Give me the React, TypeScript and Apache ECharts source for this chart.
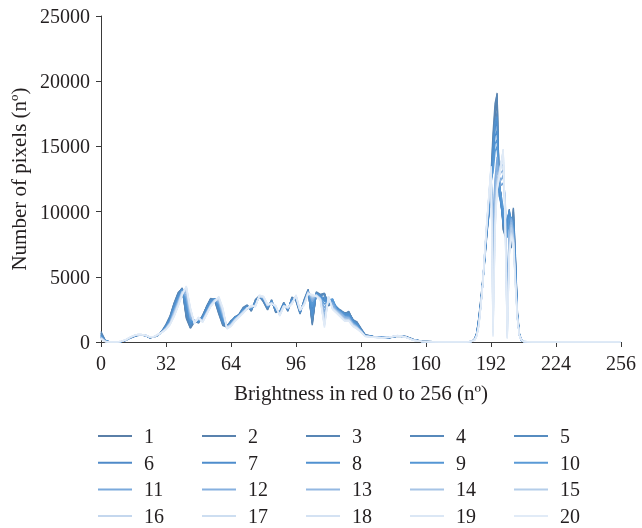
import React, { useEffect, useRef } from "react";
import * as echarts from "echarts";

// x positions (brightness bins) at which the histograms are sampled
const bins = [
  0, 2, 4, 6, 8, 10, 12, 14, 16, 18, 20,
  22, 24, 26, 28, 30, 32, 34, 36, 38, 40, 42,
  44, 46, 48, 50, 52, 54, 56, 58, 60, 62, 64,
  66, 68, 70, 72, 74, 76, 78, 80, 82, 84, 86,
  88, 90, 92, 94, 96, 98, 100, 102, 104, 106, 108,
  110, 112, 114, 116, 118, 120, 122, 124, 126, 128, 130,
  134, 138, 142, 146, 150, 154, 158, 166, 174, 180,
  182, 183, 184, 185, 186, 187, 188, 189, 190,
  191, 192, 193, 194, 195, 196, 197, 198, 199,
  200, 201, 202, 203, 204, 205, 206, 207, 208,
  212, 224, 240, 256,
];

const xTicks = [0, 32, 64, 96, 128, 160, 192, 224, 256];
const yTicks = [0, 5000, 10000, 15000, 20000, 25000];

const s1 = [
  700, 120, 20, 0, 0, 30, 120, 280, 420, 520, 540,
  480, 330, 380, 520, 820, 1300, 1950, 2950, 3750, 4150, 1900,
  1100, 1600, 1500, 2000, 2700, 3300, 3200, 2200, 1300, 1200, 1600,
  1900, 2100, 2600, 2800, 2400, 3200, 3500, 3100, 2500, 3200, 2300,
  2300, 3000, 2400, 3400, 3200, 2200, 3200, 4000, 1400, 3800, 3600,
  3700, 2800, 3100, 2600, 2400, 2200, 2300, 1700, 1500, 1000, 550,
  420, 380, 330, 450, 420, 180, 60, 10, 0, 10,
  40, 80, 250, 700, 1800, 3200, 4800, 6600, 8600,
  10200, 12500, 15500, 17800, 19100, 12000, 11200, 8700, 8200,
  8800, 10100, 7500, 10200, 6500, 2200, 600, 150, 40,
  10, 0, 0, 0,
];
const s2 = [
  600, 100, 10, 0, 0, 40, 130, 300, 430, 510, 530,
  470, 340, 370, 500, 780, 1250, 1850, 2850, 3650, 4050, 2000,
  1150, 1650, 1450, 2050, 2650, 3250, 3250, 2300, 1350, 1250, 1550,
  1950, 2050, 2550, 2750, 2450, 3150, 3450, 3150, 2550, 3150, 2350,
  2250, 2950, 2450, 3350, 3250, 2250, 3150, 3950, 1500, 3750, 3550,
  3650, 2850, 3050, 2650, 2350, 2250, 2250, 1750, 1450, 1000, 520,
  430, 370, 340, 440, 410, 170, 50, 0, 0, 0,
  30, 90, 260, 720, 1850, 3300, 4900, 6700, 8500,
  10000, 12200, 15000, 17200, 18600, 12300, 11000, 8900, 8300,
  9000, 10000, 7800, 10000, 6300, 2100, 550, 140, 30,
  0, 0, 0, 0,
];
const s3 = [
  800, 150, 30, 0, 0, 20, 110, 270, 400, 500, 530,
  490, 320, 390, 530, 850, 1350, 2000, 3000, 3800, 4100, 1800,
  1050, 1550, 1550, 1950, 2750, 3350, 3150, 2150, 1250, 1150, 1650,
  1850, 2150, 2650, 2850, 2350, 3250, 3550, 3050, 2450, 3250, 2250,
  2350, 3050, 2350, 3450, 3150, 2150, 3250, 4050, 1300, 3850, 3650,
  3750, 2750, 3150, 2550, 2450, 2150, 2350, 1650, 1550, 1050, 580,
  410, 390, 320, 460, 430, 190, 70, 10, 0, 0,
  50, 90, 240, 680, 1750, 3100, 4700, 6500, 8700,
  10400, 12800, 16000, 18300, 19000, 11800, 11400, 8600, 8100,
  8700, 10200, 7200, 10300, 6700, 2300, 650, 160, 50,
  10, 0, 0, 0,
];
const s4 = [
  650, 110, 20, 0, 0, 30, 130, 290, 410, 520, 550,
  490, 330, 380, 520, 800, 1280, 1900, 2900, 3700, 4100, 2100,
  1200, 1600, 1500, 2000, 2700, 3300, 3300, 2400, 1400, 1200, 1600,
  1900, 2100, 2600, 2800, 2500, 3100, 3500, 3200, 2600, 3100, 2400,
  2300, 2900, 2500, 3300, 3300, 2300, 3100, 3900, 1600, 3700, 3600,
  3700, 2900, 3000, 2700, 2400, 2200, 2200, 1700, 1400, 950, 500,
  420, 380, 340, 450, 410, 170, 60, 0, 0, 0,
  40, 80, 230, 650, 1700, 3000, 4600, 6400, 8300,
  9800, 12000, 14500, 16800, 17600, 12500, 10800, 9000, 8500,
  9200, 10000, 8000, 9800, 6100, 2000, 500, 130, 30,
  0, 0, 0, 0,
];
const s5 = [
  550, 90, 10, 0, 0, 40, 140, 300, 440, 530, 550,
  490, 350, 390, 510, 790, 1250, 1850, 2800, 3600, 4100, 2300,
  1250, 1650, 1500, 1950, 2650, 3250, 3300, 2400, 1400, 1250, 1550,
  1950, 2050, 2550, 2750, 2500, 3100, 3450, 3200, 2600, 3150, 2400,
  2250, 2950, 2500, 3300, 3300, 2300, 3100, 3900, 1700, 3700, 3550,
  3650, 2900, 3000, 2650, 2350, 2150, 2200, 1700, 1400, 950, 500,
  410, 370, 340, 450, 400, 170, 50, 0, 0, 0,
  40, 80, 240, 660, 1750, 3050, 4700, 6500, 8400,
  9900, 12100, 14200, 16500, 17000, 12800, 10600, 9200, 8600,
  9400, 9900, 8200, 9600, 6000, 1900, 500, 120, 30,
  0, 0, 0, 0,
];
const s6 = [
  500, 80, 10, 0, 0, 40, 140, 300, 440, 540, 550,
  490, 350, 390, 530, 790, 1200, 1750, 2700, 3500, 4050, 2700,
  1400, 1650, 1600, 1850, 2500, 3100, 3300, 2600, 1600, 1200, 1500,
  1850, 2050, 2500, 2700, 2550, 3000, 3500, 3250, 2650, 3100, 2500,
  2250, 2900, 2500, 3250, 3350, 2300, 3050, 3900, 2200, 3700, 3450,
  3300, 3000, 3200, 2600, 2350, 2100, 2100, 1600, 1350, 900, 500,
  410, 360, 350, 460, 400, 160, 50, 0, 0, 0,
  40, 70, 220, 620, 1650, 3000, 4700, 6600, 8600,
  10000, 12000, 14500, 16500, 16800, 11500, 10500, 9300, 8800,
  9500, 10000, 9200, 9000, 6000, 2000, 550, 140, 30,
  0, 0, 0, 0,
];
const s7 = [
  450, 70, 10, 0, 0, 40, 140, 310, 450, 540, 550,
  490, 360, 390, 530, 780, 1180, 1700, 2650, 3450, 4000, 2900,
  1500, 1650, 1600, 1800, 2450, 3050, 3300, 2700, 1700, 1200, 1450,
  1800, 2050, 2450, 2650, 2600, 2950, 3500, 3300, 2700, 3050, 2550,
  2200, 2850, 2550, 3200, 3400, 2350, 3000, 3850, 2500, 3700, 3400,
  3200, 3100, 3250, 2550, 2300, 2050, 2000, 1550, 1300, 880, 480,
  400, 350, 350, 470, 390, 150, 50, 0, 0, 0,
  40, 70, 210, 600, 1600, 2950, 4650, 6700, 8700,
  10300, 12300, 14000, 15800, 16200, 11800, 10300, 9600, 9000,
  9000, 9800, 9400, 8800, 5800, 2000, 550, 150, 40,
  0, 0, 0, 0,
];
const s8 = [
  520, 90, 10, 0, 0, 40, 130, 300, 450, 540, 550,
  500, 350, 390, 530, 800, 1220, 1780, 2750, 3550, 4050, 2600,
  1350, 1650, 1550, 1900, 2550, 3150, 3300, 2550, 1550, 1200, 1500,
  1900, 2050, 2500, 2700, 2500, 3050, 3500, 3250, 2650, 3150, 2450,
  2250, 2950, 2450, 3300, 3350, 2250, 3100, 3950, 2000, 3750, 3500,
  3400, 3000, 3150, 2600, 2350, 2150, 2150, 1650, 1400, 920, 510,
  410, 360, 340, 460, 400, 160, 50, 0, 0, 0,
  40, 80, 230, 640, 1700, 3050, 4750, 6600, 8500,
  9900, 11800, 14800, 16900, 17300, 11200, 10700, 9100, 8700,
  9300, 10100, 9000, 9300, 6200, 2100, 560, 140, 30,
  0, 0, 0, 0,
];
const s9 = [
  420, 60, 10, 0, 0, 40, 140, 310, 460, 550, 560,
  500, 360, 400, 540, 780, 1150, 1650, 2600, 3400, 4000, 3000,
  1550, 1600, 1650, 1750, 2400, 3000, 3300, 2800, 1800, 1150, 1450,
  1800, 2000, 2450, 2650, 2600, 2950, 3500, 3300, 2700, 3050, 2600,
  2200, 2850, 2550, 3150, 3400, 2350, 3000, 3850, 2700, 3650, 3400,
  3100, 3100, 3300, 2550, 2300, 2050, 2000, 1550, 1300, 870, 480,
  400, 350, 360, 470, 390, 150, 50, 0, 0, 0,
  40, 70, 200, 580, 1550, 2900, 4600, 6800, 8800,
  10500, 12400, 13500, 15200, 15500, 12000, 10800, 10000, 9200,
  8500, 9600, 9500, 8600, 5600, 1900, 520, 140, 40,
  0, 0, 0, 0,
];
const s10 = [
  400, 60, 0, 0, 0, 50, 150, 310, 460, 550, 560,
  500, 370, 400, 540, 770, 1120, 1600, 2500, 3300, 3950, 3200,
  1650, 1600, 1700, 1700, 2350, 2950, 3250, 2900, 1900, 1150, 1400,
  1800, 2000, 2400, 2600, 2650, 2900, 3500, 3350, 2750, 3000, 2650,
  2150, 2800, 2600, 3100, 3450, 2400, 2950, 3850, 2900, 3650, 3350,
  2900, 3200, 3300, 2500, 2300, 2000, 1950, 1500, 1250, 850, 470,
  390, 340, 360, 470, 380, 150, 40, 0, 0, 0,
  40, 70, 200, 570, 1500, 2850, 4600, 6900, 8900,
  10700, 12500, 13000, 14600, 15000, 12200, 11200, 10300, 9500,
  8000, 9400, 9600, 8500, 5500, 1900, 520, 150, 40,
  0, 0, 0, 0,
];
const s11 = [
  380, 60, 0, 0, 0, 50, 150, 320, 460, 550, 560,
  500, 370, 400, 550, 770, 1100, 1550, 2400, 3200, 3900, 3400,
  1800, 1600, 1700, 1700, 2300, 2900, 3250, 3000, 2000, 1150, 1400,
  1750, 2000, 2350, 2600, 2650, 2850, 3500, 3350, 2750, 3000, 2650,
  2150, 2800, 2550, 3050, 3450, 2400, 2950, 3850, 3100, 3600, 3350,
  2600, 3250, 3000, 2450, 2250, 1950, 1900, 1450, 1200, 850, 470,
  390, 340, 360, 470, 380, 150, 40, 0, 0, 0,
  40, 70, 190, 550, 1450, 2850, 4600, 7000, 9000,
  11000, 12800, 9500, 12500, 14200, 12600, 12000, 12200, 11000,
  4000, 8500, 9500, 8500, 5200, 1900, 500, 150, 40,
  0, 0, 0, 0,
];
const s12 = [
  360, 60, 0, 0, 0, 50, 150, 320, 460, 550, 560,
  500, 370, 400, 550, 760, 1080, 1500, 2350, 3100, 3900, 3600,
  1900, 1550, 1750, 1650, 2250, 2850, 3250, 3100, 2100, 1150, 1350,
  1750, 2000, 2350, 2600, 2700, 2850, 3500, 3400, 2800, 3000, 2700,
  2100, 2800, 2600, 3050, 3450, 2400, 2950, 3850, 3200, 3600, 3350,
  2300, 3300, 2800, 2400, 2200, 1900, 1850, 1400, 1200, 830, 460,
  390, 340, 360, 480, 380, 150, 40, 0, 0, 0,
  40, 60, 190, 540, 1420, 2820, 4600, 7000, 9000,
  11100, 12900, 8000, 12200, 13600, 12700, 12400, 12800, 10800,
  3000, 8200, 9400, 8300, 5000, 1900, 500, 150, 40,
  0, 0, 0, 0,
];
const s13 = [
  340, 50, 0, 0, 0, 50, 150, 320, 470, 560, 560,
  500, 380, 400, 550, 760, 1060, 1480, 2300, 3050, 3850, 3800,
  2000, 1550, 1750, 1650, 2250, 2850, 3250, 3150, 2150, 1150, 1350,
  1750, 2000, 2300, 2600, 2700, 2850, 3500, 3400, 2800, 3000, 2700,
  2100, 2800, 2600, 3050, 3450, 2400, 2950, 3850, 3300, 3600, 3350,
  2000, 3350, 2700, 2400, 2150, 1850, 1800, 1400, 1150, 820, 460,
  390, 340, 360, 480, 380, 150, 40, 0, 0, 0,
  40, 60, 190, 530, 1400, 2800, 4600, 7000, 9100,
  11100, 13000, 6500, 11500, 13000, 12800, 13000, 13200, 10500,
  2200, 7900, 9200, 8200, 4900, 1900, 500, 150, 40,
  0, 0, 0, 0,
];
const s14 = [
  320, 50, 0, 0, 0, 50, 150, 320, 470, 560, 560,
  500, 380, 400, 560, 750, 1030, 1450, 2200, 3000, 3850, 3900,
  2200, 1500, 1800, 1600, 2200, 2800, 3200, 3250, 2250, 1100, 1300,
  1700, 2000, 2300, 2550, 2700, 2800, 3500, 3400, 2800, 3000, 2700,
  2100, 2800, 2600, 3000, 3500, 2400, 2900, 3800, 3400, 3600, 3300,
  1700, 3400, 2650, 2350, 2050, 1750, 1750, 1350, 1100, 810, 450,
  380, 330, 360, 480, 380, 140, 40, 0, 0, 0,
  40, 60, 180, 520, 1380, 2800, 4600, 7000, 9100,
  11200, 13100, 4500, 10800, 12500, 12900, 13500, 13600, 10000,
  1500, 7600, 9000, 8000, 4800, 1900, 500, 150, 40,
  0, 0, 0, 0,
];
const s15 = [
  310, 50, 0, 0, 0, 50, 150, 320, 470, 560, 560,
  500, 380, 400, 560, 750, 1020, 1430, 2150, 2950, 3800, 4000,
  2300, 1500, 1800, 1600, 2200, 2800, 3200, 3300, 2300, 1100, 1300,
  1700, 2000, 2300, 2550, 2700, 2800, 3500, 3400, 2800, 3000, 2700,
  2100, 2800, 2600, 3000, 3500, 2400, 2900, 3800, 3450, 3600, 3300,
  1600, 3400, 2600, 2300, 2000, 1700, 1700, 1300, 1100, 800, 450,
  380, 330, 360, 480, 380, 140, 40, 0, 0, 0,
  40, 60, 180, 510, 1350, 2800, 4600, 7000, 9200,
  11200, 13100, 3000, 10000, 12200, 13000, 13800, 14000, 9800,
  1000, 7300, 8800, 7900, 4700, 1850, 500, 150, 40,
  0, 0, 0, 0,
];
const s16 = [
  300, 50, 0, 0, 0, 50, 150, 320, 470, 560, 560,
  500, 380, 400, 560, 750, 1000, 1400, 2100, 2900, 3800, 4100,
  2400, 1500, 1800, 1600, 2200, 2800, 3200, 3300, 2400, 1100, 1300,
  1700, 2000, 2300, 2600, 2700, 2800, 3500, 3400, 2800, 3000, 2700,
  2100, 2800, 2600, 3000, 3500, 2400, 2900, 3800, 3500, 3600, 3300,
  1400, 3400, 2600, 2300, 2000, 1700, 1700, 1300, 1100, 800, 450,
  380, 330, 360, 480, 380, 140, 40, 0, 0, 0,
  40, 60, 180, 500, 1300, 2800, 4600, 7000, 9200,
  11200, 13200, 1500, 9300, 12000, 12900, 13800, 14400, 9400,
  600, 7000, 8400, 7800, 4600, 1800, 500, 150, 40,
  0, 0, 0, 0,
];
const s17 = [
  280, 40, 0, 0, 0, 50, 160, 330, 480, 570, 570,
  510, 390, 410, 570, 740, 980, 1380, 2050, 2850, 3750, 4150,
  2500, 1450, 1850, 1550, 2150, 2750, 3150, 3350, 2450, 1050, 1250,
  1650, 1950, 2250, 2600, 2750, 2750, 3550, 3450, 2850, 2950, 2750,
  2050, 2750, 2650, 2950, 3550, 2450, 2850, 3750, 3550, 3550, 3250,
  1300, 3450, 2550, 2250, 1950, 1650, 1650, 1250, 1050, 780, 440,
  370, 320, 370, 490, 370, 130, 40, 0, 0, 0,
  40, 60, 170, 490, 1280, 2780, 4620, 7050, 9250,
  11300, 13300, 1000, 9000, 11900, 12800, 13800, 14600, 9200,
  450, 6900, 8300, 7800, 4500, 1800, 500, 150, 40,
  0, 0, 0, 0,
];
const s18 = [
  260, 40, 0, 0, 0, 60, 160, 330, 480, 570, 570,
  510, 390, 410, 570, 740, 970, 1360, 2000, 2800, 3700, 4200,
  2550, 1450, 1850, 1550, 2150, 2750, 3150, 3400, 2500, 1050, 1250,
  1650, 1950, 2250, 2600, 2750, 2750, 3550, 3450, 2850, 2950, 2750,
  2050, 2750, 2650, 2950, 3550, 2450, 2850, 3750, 3550, 3550, 3250,
  1300, 3450, 2550, 2250, 1950, 1650, 1650, 1250, 1050, 780, 440,
  370, 320, 370, 490, 370, 130, 40, 0, 0, 0,
  40, 60, 170, 480, 1250, 2750, 4600, 7100, 9300,
  11300, 13400, 700, 8800, 11800, 12700, 13700, 14700, 9000,
  350, 6800, 8200, 7700, 4500, 1750, 500, 150, 40,
  0, 0, 0, 0,
];
const s19 = [
  240, 40, 0, 0, 0, 60, 160, 330, 490, 580, 570,
  510, 390, 410, 580, 740, 960, 1340, 1980, 2760, 3650, 4250,
  2600, 1400, 1900, 1500, 2100, 2700, 3100, 3450, 2550, 1000, 1200,
  1600, 1900, 2200, 2600, 2800, 2700, 3600, 3500, 2900, 2900, 2800,
  2000, 2700, 2700, 2900, 3600, 2500, 2800, 3700, 3600, 3500, 3200,
  1200, 3500, 2500, 2200, 1900, 1600, 1600, 1200, 1000, 760, 430,
  360, 310, 370, 500, 360, 120, 30, 0, 0, 0,
  40, 50, 160, 470, 1220, 2720, 4580, 7150, 9350,
  11350, 13450, 500, 8600, 11700, 12600, 13600, 14800, 8900,
  300, 6700, 8100, 7700, 4400, 1750, 480, 150, 40,
  0, 0, 0, 0,
];
const s20 = [
  220, 30, 0, 0, 0, 60, 170, 340, 490, 580, 570,
  510, 400, 410, 580, 730, 950, 1320, 1950, 2720, 3600, 4300,
  2650, 1400, 1900, 1500, 2100, 2700, 3100, 3500, 2600, 1000, 1200,
  1600, 1900, 2200, 2600, 2800, 2700, 3600, 3500, 2900, 2900, 2800,
  2000, 2700, 2700, 2900, 3600, 2500, 2800, 3700, 3650, 3500, 3200,
  1100, 3500, 2500, 2200, 1900, 1600, 1600, 1200, 1000, 750, 420,
  360, 310, 370, 500, 360, 120, 30, 0, 0, 0,
  40, 50, 160, 460, 1200, 2700, 4550, 7200, 9400,
  11400, 13500, 400, 8500, 11600, 12500, 13500, 14800, 8800,
  250, 6600, 8000, 7600, 4400, 1700, 480, 150, 40,
  0, 0, 0, 0,
];

const seriesValues = [
  s1, s2, s3, s4, s5, s6, s7, s8, s9, s10,
  s11, s12, s13, s14, s15, s16, s17, s18, s19, s20,
];
const seriesNames = seriesValues.map((_, i) => String(i + 1));

const colors = [
  "#5a7fa8", "#5982ae", "#5886b5", "#5789bb", "#568cc0",
  "#4f8ac8", "#4e8dcc", "#5091d0", "#5596d4", "#5a9ad6",
  "#7aa9dc", "#86b0df", "#93b8e2", "#a6c4e6", "#b4cde9",
  "#c4d7ee", "#cddef1", "#d4e2f3", "#dbe7f5", "#e1ebf7",
];

const FONT = "'Liberation Serif', 'DejaVu Serif', serif";
const TEXT = "#231f20";
const AXIS = "#3a3a3a";
const FS = 20;
const NAME_FS = 21;

export default function App() {
  const ref = useRef<HTMLDivElement>(null);
  useEffect(() => {
    if (!ref.current) return;
    const chart = echarts.init(ref.current, undefined, { renderer: "svg" });
    const colLeft = [98, 202, 306, 410, 514];
    const legends = colLeft.map((left, c) => ({
      orient: "vertical",
      left,
      top: 426,
      padding: 0,
      icon: "rect",
      itemWidth: 34,
      itemHeight: 2,
      itemGap: 6.7,
      data: [c, c + 5, c + 10, c + 15].map((i) => seriesNames[i]),
      textStyle: {
        fontFamily: FONT,
        fontSize: FS,
        color: TEXT,
        lineHeight: 20,
        padding: [0, 0, 0, 7],
      },
    }));
    chart.setOption({
      animation: false,
      color: colors,
      grid: { left: 101, right: 21, top: 16, bottom: 186, containLabel: false },
      legend: legends,
      xAxis: {
        type: "value",
        min: xTicks[0],
        max: xTicks[xTicks.length - 1],
        interval: xTicks[1] - xTicks[0],
        name: "Brightness in red 0 to 256 (nº)",
        nameLocation: "middle",
        nameGap: 40,
        nameTextStyle: { fontFamily: FONT, fontSize: NAME_FS, color: TEXT },
        axisLine: { show: true, lineStyle: { color: AXIS, width: 1 } },
        axisTick: { show: true, length: 5, lineStyle: { color: AXIS } },
        axisLabel: { fontFamily: FONT, fontSize: FS, color: TEXT, margin: 11 },
        splitLine: { show: false },
      },
      yAxis: {
        type: "value",
        min: yTicks[0],
        max: yTicks[yTicks.length - 1],
        interval: yTicks[1] - yTicks[0],
        name: "Number of pixels (nº)",
        nameLocation: "middle",
        nameGap: 69,
        nameTextStyle: { fontFamily: FONT, fontSize: NAME_FS, color: TEXT },
        axisLine: { show: true, lineStyle: { color: AXIS, width: 1 } },
        axisTick: { show: true, length: 5, lineStyle: { color: AXIS } },
        axisLabel: {
          fontFamily: FONT,
          fontSize: FS,
          color: TEXT,
          margin: 11,
          formatter: (v: number) => String(v),
        },
        splitLine: { show: false },
      },
      series: seriesValues.map((vals, i) => ({
        name: seriesNames[i],
        type: "line",
        symbol: "none",
        lineStyle: { width: 1.4, color: colors[i] },
        itemStyle: { color: colors[i] },
        data: bins.map((x, j) => [x, vals[j]]),
      })),
    });
    return () => chart.dispose();
  }, []);
  return (
    <div
      ref={ref}
      style={{ position: "fixed", left: 0, top: 0, width: 642, height: 528 }}
    />
  );
}
